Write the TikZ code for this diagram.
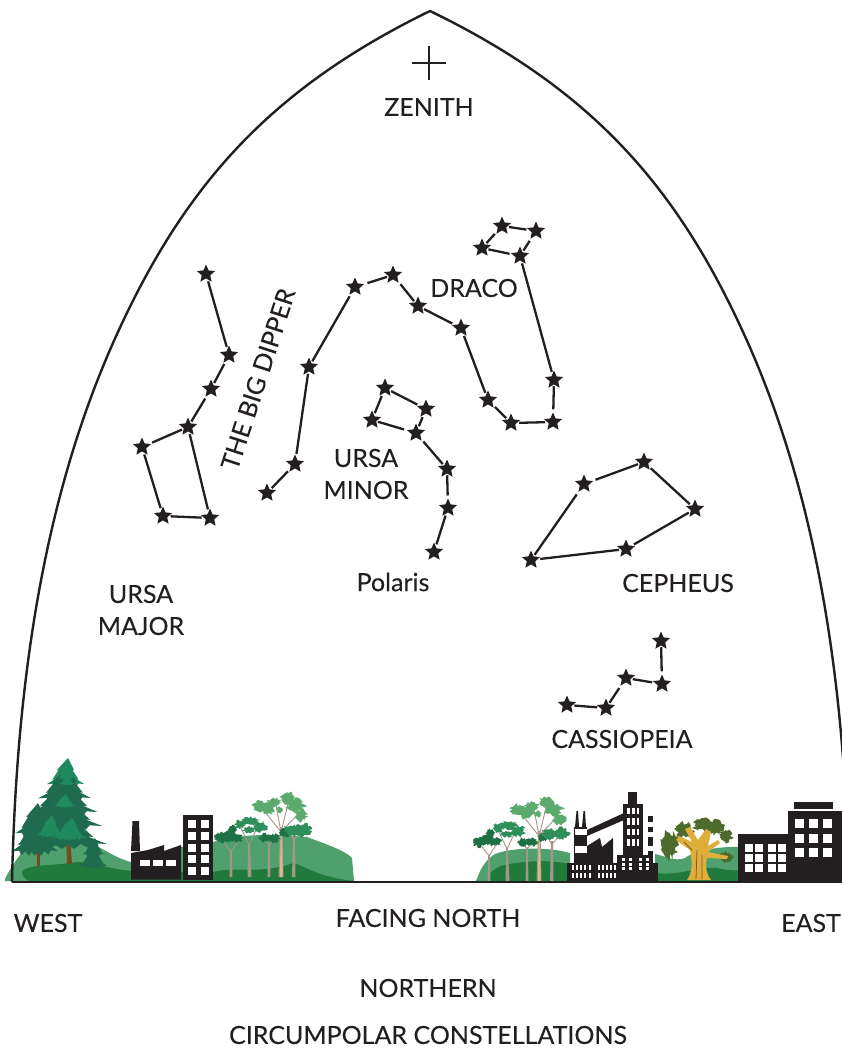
\documentclass[tikz,border=0pt]{standalone}
\usepackage{fontspec}
\setmainfont{Lato}[FakeBold=0.12]
\usetikzlibrary{shapes.geometric}
\definecolor{ink}{HTML}{231F20}
\definecolor{hilllight}{HTML}{50A06E}
\definecolor{hilldark}{HTML}{1F7A3C}
\definecolor{pinedark}{HTML}{1F6B50}
\definecolor{pinelight}{HTML}{1F8A5E}
\definecolor{gumdark}{HTML}{1E7045}
\definecolor{gummid}{HTML}{2F8F5A}
\definecolor{gumlight}{HTML}{5BAA6E}
\definecolor{bark}{HTML}{A5968A}
\definecolor{barklight}{HTML}{D8B98E}
\definecolor{olive}{HTML}{4C6B2C}
\definecolor{gold}{HTML}{DDAE3A}
\tikzset{
  sky/.style={line width=2.4pt,draw=ink,line join=miter},
  starnode/.style={star,star points=5,star point ratio=2.15,minimum size=19pt,inner sep=0pt,outer sep=1.5pt,fill=ink},
  conn/.style={line width=2.3pt,draw=ink},
  lbl/.style={font=\fontsize{25}{30}\selectfont,text=ink,align=center,inner sep=0pt},
  win/.style={fill=white},
}
% a ragged clump of foliage: centre x, centre y, radii, colour
\newcommand{\clump}[5]{%
  \fill[#5] plot[samples=30,domain=0:348] ({#1+#3*cos(\x)*(0.65+0.7*rnd)},{#2+#4*sin(\x)*(0.65+0.7*rnd)}) -- cycle;}
% one jagged tier of a conifer: apex x, apex y, half width, height
\newcommand{\pinetier}[5]{%
  \fill[#5] (#1,#2)
   -- ++(.35*#3,.45*#4) -- ++(-.08*#3,.02*#4) -- ++(.35*#3,.35*#4) -- ++(-.15*#3,-.02*#4)
   -- ++(.48*#3,.2*#4) -- ++(-.35*#3,-.02*#4) -- ++(-.1*#3,.12*#4) -- ++(-.2*#3,-.1*#4) -- ++(-.15*#3,.13*#4) -- ++(-.15*#3,-.1*#4) -- ++(-.15*#3,.1*#4)
   -- ++(-.15*#3,-.1*#4) -- ++(-.15*#3,.1*#4) -- ++(-.15*#3,-.12*#4) -- ++(-.2*#3,.1*#4) -- ++(-.1*#3,-.12*#4) -- ++(-.35*#3,.02*#4)
   -- ++(.48*#3,-.2*#4) -- ++(-.15*#3,.02*#4) -- ++(.35*#3,-.35*#4) -- ++(-.08*#3,-.02*#4) -- cycle;}
% the five gum trees standing on a hill
\newcommand{\gumgrove}{%
  \fill[bark] (230.3,850) -- (231.7,850) -- (232.5,877) -- (229.5,877) -- cycle;
  \fill[bark] (248.3,843) -- (249.7,843) -- (251.5,877) -- (247.5,877) -- cycle;
  \fill[bark] (268.3,843) -- (269.7,843) -- (270.5,877) -- (267.5,877) -- cycle;
  \fill[bark] (293,837) -- (295,837) -- (295.5,877) -- (292,877) -- cycle;
  \fill[bark] (280,827) -- (282.5,827) -- (283.5,877) -- (278.5,877) -- cycle;
  \fill[barklight] (280.5,835) -- (282,835) -- (282.7,877) -- (280,877) -- cycle;
  \draw[bark,line width=.9pt] (231,852) -- (222,840) (231,852) -- (240,838)
    (249,845) -- (240,826) (249,845) -- (258,826)
    (269,845) -- (262,836) (269,845) -- (278,836)
    (281,832) -- (262,808) (281,832) -- (276,805) (281,832) -- (289,800) (281,832) -- (300,812)
    (294,840) -- (284,826) (294,840) -- (305,828);
  \clump{221}{838}{6}{5}{gumdark}
  \clump{229}{836}{7}{5}{gumdark}
  \clump{237}{838}{6}{4}{gumdark}
  \clump{232}{829}{4}{4}{gumdark}
  \clump{240}{824}{5}{4}{gummid}
  \clump{250}{821}{8}{4}{gummid}
  \clump{260}{827}{7}{5}{gummid}
  \clump{249}{830}{6}{3}{gummid}
  \clump{265}{838}{5}{4}{gumdark}
  \clump{274}{838}{6}{4}{gumdark}
  \clump{285}{833}{5}{4}{gumdark}
  \clump{292}{830}{8}{5}{gummid}
  \clump{303}{830}{8}{6}{gummid}
  \clump{259}{806}{7}{5}{gumlight}
  \clump{268}{808}{7}{6}{gumlight}
  \clump{274}{802}{6}{4}{gumlight}
  \clump{288}{798}{7}{5}{gumlight}
  \clump{295}{805}{9}{6}{gumlight}
  \clump{301}{815}{6}{6}{gumlight}
  \clump{280}{810}{3}{3}{gumlight}}
\pgfmathsetseed{42}
\begin{document}
\begin{tikzpicture}[x=1pt,y=-1pt]
\useasboundingbox (0,0) rectangle (842,1049);

% --- western horizon: hills and conifers ---
\fill[hilllight] (5,879) .. controls (10,868) and (25,845) .. (40,835) -- (95,845)
  .. controls (110,853) and (120,860) .. (135,863) -- (181,847) -- (213,842)
  .. controls (245,832) and (285,835) .. (307,837)
  .. controls (320,842) and (345,850) .. (352,858) -- (354,881) -- (5,881) -- cycle;
\fill[hilldark] (22,872) .. controls (25,864) and (55,866) .. (77,862)
  .. controls (95,862) and (110,870) .. (135,871) -- (213,872)
  .. controls (235,866) and (260,875) .. (293,863)
  .. controls (305,866) and (320,878) .. (355,881) -- (30,881)
  .. controls (25,880) and (22,876) .. (22,872) -- cycle;
\fill[brown!60!black] (37,845) rectangle (40,866);
\pinetier{38}{803}{18}{30}{pinedark}
\pinetier{38}{815}{21}{36}{pinedark}
\fill[brown!60!black] (66,835) -- (70,835) -- (72,864) -- (67,864) -- cycle;
\pinetier{68}{758}{17}{26}{pinelight}
\pinetier{68}{768}{24}{30}{pinedark}
\pinetier{68}{780}{31}{32}{pinedark}
\pinetier{68}{792}{36}{34}{pinedark}
\pinetier{68}{806}{41}{38}{pinedark}
\pinetier{68}{762}{8}{16}{pinelight}
\pinetier{52}{815}{12}{20}{pinelight}
\pinetier{72}{818}{15}{20}{pinelight}
\pinetier{66}{794}{10}{12}{pinelight}
\pinetier{68}{775}{7}{9}{pinelight}
\pinetier{95}{838}{10}{16}{pinedark}
\pinetier{95}{846}{13}{20}{pinedark}

% --- western factory and tower ---
\fill[ink] (132.5,821) -- (139,821) -- (140,851) -- (131,851) -- cycle;
\fill[ink] (131,853) -- (148,850) -- (164,845) -- (164,851) -- (181,845) -- (181,879.5) -- (131,879.5) -- cycle;
\foreach \wx in {140,153,166} \fill[win] (\wx,860) rectangle ++(10,6);
\fill[ink] (183,815) rectangle (213,880);
\foreach \wy in {820,832,844,855,867}
  \foreach \wx in {188,201} \fill[win] (\wx,\wy) rectangle ++(8,8);

\gumgrove

% --- eastern horizon: hills ---
\fill[hilllight] (476,881) .. controls (480,870) and (485,860) .. (495,854)
  .. controls (510,848) and (545,846) .. (570,853) -- (570,881) -- cycle;
\fill[hilldark] (487,881) .. controls (490,868) and (500,864) .. (525,862)
  .. controls (545,860) and (560,862) .. (570,864) -- (570,881) -- cycle;
\fill[hilllight] (655,854) .. controls (665,856) and (675,862) .. (685,858)
  .. controls (695,850) and (720,846) .. (745,847) -- (745,881) -- (655,881) -- cycle;
\fill[hilldark] (655,873) .. controls (680,876) and (700,866) .. (717,868)
  .. controls (725,870) and (735,871) .. (745,870) -- (745,881) -- (655,881) -- cycle;

\begin{scope}[shift={(258,4)}]
  \gumgrove
\end{scope}

% --- eastern power plant ---
\fill[ink] (575,827) -- (576.5,811) -- (578,811) -- (579,827) -- cycle;
\fill[ink] (582,827) -- (583.5,811) -- (585,811) -- (586,827) -- cycle;
\fill[ink] (574,827) rectangle (587,863);
\fill[win] (575,829) rectangle (587,835);
\fill[win] (575,846) rectangle (587,853);
\fill[ink] (587,830) -- (624,813) -- (624,820) -- (587,836) -- cycle;
\fill[ink] (587,846) -- (600,838) -- (602,847) -- (613,838) -- (613,863) -- (587,863) -- cycle;
\fill[ink] (623,804) rectangle (643,856);
\fill[ink] (628,792) rectangle (637,804);
\fill[ink] (648,816) rectangle (653,856);
\foreach \sy in {822,832,846} \fill[win] (648,\sy) rectangle ++(5,4.5);
\fill[ink] (617,855) rectangle (653,864);
\fill[ink] (567,863) rectangle (658,881);
\foreach \wy in {807.5,818,828.5,839}
  \foreach \wx in {627,632,636.5} \fill[win] (\wx,\wy) rectangle ++(2.8,6.5);
\foreach \wx in {622,629,638.5,645.5}
  \foreach \wy in {857.5,862.5,867}{\fill[win] (\wx,\wy) rectangle ++(3,3.4);}
\foreach \wy in {865,873}
  \foreach \wx in {572,576,580,584,589,598,602,606,610,614}
    {\fill[win] (\wx,\wy) rectangle ++(2.4,4.5);}

% --- old tree between the two sites ---
\clump{670}{845}{8}{13}{olive}
\clump{685}{830}{9}{7}{olive}
\clump{704}{825}{10}{6}{olive}
\clump{716}{827}{8}{7}{olive}
\clump{726}{836}{6}{6}{olive}
\clump{726}{857}{6}{5}{olive}
\fill[gold] (687,880) .. controls (693,872) and (692,860) .. (690,850)
  -- (676,840) -- (679,836) -- (692,842) -- (685,829) -- (690,827) -- (698,840) -- (706,829) -- (711,832)
  -- (708,846) -- (718,840) -- (720,843) -- (708,852) -- (728,856) -- (727,859) -- (707,858)
  .. controls (705,866) and (706,873) .. (711,880) -- cycle;
\draw[brown!70!black,line width=.8pt] (696,879) -- (697,850) (702,879) -- (702,855) (692,850) -- (684,842);

% --- eastern office blocks ---
\fill[ink] (738,833.5) rectangle (788,881);
\fill[ink] (788,810.5) rectangle (841.5,881);
\fill[ink] (794,802) rectangle (833,809);
\foreach \wy in {819,834,848}
  \foreach \wx in {795,809,823} \fill[win] (\wx,\wy) rectangle ++(9,9);
\foreach \wy in {844,854,863.5}
  \foreach \wx in {745,755,768,778} \fill[win] (\wx,\wy) rectangle ++(8,8);

% --- sky dome and horizon ---
\coordinate (horizonW) at (12,882);
\coordinate (horizonE) at (842,882);
\coordinate (apex) at (430,11);
\coordinate (shoulderW) at (113,343);
\coordinate (shoulderE) at (748,343);
\coordinate (domeE) at (849,882);
\draw[sky] (horizonW) .. controls (16,700) and (39,510) .. (shoulderW)
  .. controls (182,188) and (268,90) .. (apex)
  .. controls (593,90) and (679,188) .. (shoulderE)
  .. controls (822,510) and (845,700) .. (domeE);
\draw[sky] (horizonW) -- (horizonE);

% --- zenith mark ---
\coordinate (zenN) at (429,46);
\coordinate (zenS) at (429,80);
\coordinate (zenW) at (412,63);
\coordinate (zenE) at (446,63);
\draw[line width=1.9pt,draw=ink] (zenN) -- (zenS) (zenW) -- (zenE);

% --- Ursa Major ---
\foreach \n/\x/\y in {ma/206/274,mb/229/355,mc/211/389,md/188/427,me/142/447,mf/163/516,mg/210/518}
  \node[starnode] (\n) at (\x,\y) {};
\draw[conn] (ma)--(mb) (mb)--(mc) (mc)--(md) (md)--(me) (me)--(mf) (mf)--(mg) (mg)--(md);

% --- Draco ---
\foreach \n/\x/\y in {da/267/493,db/295/464,dc/309/367,dd/355/287,de/393/275,df/418/306,dg/461/328,dh/488/400,di/511/423,dj/553/422,dk/554/380,dl/520/256,dm/536/231,dn/502/226,dp/482/248}
  \node[starnode] (\n) at (\x,\y) {};
\draw[conn] (da)--(db) (db)--(dc) (dc)--(dd) (dd)--(de) (de)--(df) (df)--(dg) (dg)--(dh) (dh)--(di) (di)--(dj) (dj)--(dk) (dk)--(dl) (dl)--(dm) (dm)--(dn) (dn)--(dp) (dp)--(dl);

% --- Ursa Minor ---
\foreach \n/\x/\y in {ua/385/388,ub/426/409,uc/416/433,ud/372/420,ue/447/469,uf/448/508,ug/434/552}
  \node[starnode] (\n) at (\x,\y) {};
\draw[conn] (ua)--(ub) (ub)--(uc) (uc)--(ud) (ud)--(ua) (uc)--(ue) (ue)--(uf) (uf)--(ug);

% --- Cepheus ---
\foreach \n/\x/\y in {ca/531/560,cb/584/484,cc/644/462,cd/695/509,ce/626/549}
  \node[starnode] (\n) at (\x,\y) {};
\draw[conn] (ca)--(cb) (cb)--(cc) (cc)--(cd) (cd)--(ce) (ce)--(ca);

% --- Cassiopeia ---
\foreach \n/\x/\y in {sa/567/705,sb/606/708,sc/626/678,sd/662/684,se/661/641}
  \node[starnode] (\n) at (\x,\y) {};
\draw[conn] (sa)--(sb) (sb)--(sc) (sc)--(sd) (sd)--(se);

% --- labels ---
\node[lbl] (zenith) at (429,107) {ZENITH};
\node[lbl] (draco) at (474,288) {DRACO};
\node[lbl,rotate=72] (dipper) at (258,379) {THE BIG DIPPER};
\node[lbl] (uminor1) at (366,458) {URSA};
\node[lbl] (uminor2) at (366,490) {MINOR};
\node[lbl] (umajor1) at (141,594) {URSA};
\node[lbl] (umajor2) at (141,626) {MAJOR};
\node[lbl] (polaris) at (393,582) {Polaris};
\node[lbl] (cepheus) at (678,583) {CEPHEUS};
\node[lbl] (cass) at (622,739) {CASSIOPEIA};
\node[lbl] (west) at (48,923) {WEST};
\node[lbl] (north) at (428,918) {FACING NORTH};
\node[lbl] (east) at (811,923) {EAST};
\node[lbl] (title1) at (428,988) {NORTHERN};
\node[lbl] (title2) at (428,1035) {CIRCUMPOLAR CONSTELLATIONS};
\end{tikzpicture}
\end{document}
